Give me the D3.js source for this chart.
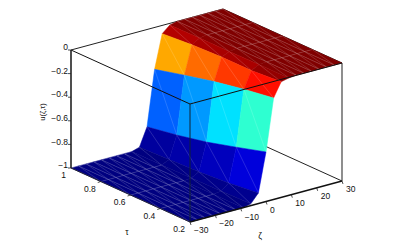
<!DOCTYPE html>
<html>
<head>
<meta charset="utf-8">
<script src="https://cdn.jsdelivr.net/npm/d3@7"></script>
<style>
  html, body { margin: 0; padding: 0; background: #fff; }
  svg { display: block; }
  text { font-family: "Liberation Sans", Arial, sans-serif; font-size: 8.5px; fill: #111; }
</style>
</head>
<body>
<svg width="407" height="245"></svg>
<script>
// values
const zetaGrid = [-30, -27, -24, -21, -18, -15, -12, -9, -6, -3, 0, 3, 6, 9, 12, 15, 18, 21, 24, 27, 30];
const tauGrid = [1, 0.8, 0.6, 0.4, 0.2];

const uTau10 = [-1, -1, -1, -1, -1, -1, -1, -1, -1, -0.98, -0.825, -0.355, -0.07, -0.015, 0, 0, 0, 0, 0, 0, 0];
const uTau08 = [-1, -1, -1, -1, -1, -1, -1, -1, -1, -0.97, -0.78, -0.29, -0.05, -0.01, 0, 0, 0, 0, 0, 0, 0];
const uTau06 = [-1, -1, -1, -1, -1, -1, -1, -1, -0.995, -0.96, -0.725, -0.23, -0.04, -0.01, 0, 0, 0, 0, 0, 0, 0];
const uTau04 = [-1, -1, -1, -1, -1, -1, -1, -1, -0.99, -0.94, -0.654, -0.18, -0.04, -0.005, 0, 0, 0, 0, 0, 0, 0];
const uTau02 = [-1, -1, -1, -1, -1, -1, -1, -1, -0.985, -0.91, -0.58, -0.14, -0.02, -0.005, 0, 0, 0, 0, 0, 0, 0];
const uRows = [uTau10, uTau08, uTau06, uTau04, uTau02];

const zetaTicks = [-30, -20, -10, 0, 10, 20, 30];
const tauTicks = [1, 0.8, 0.6, 0.4, 0.2];
const uTicks = [0, -0.2, -0.4, -0.6, -0.8, -1];

const svg = d3.select('svg');

// the box is an oblique projection, each data axis moves the point in x and y
const zetaX = d3.scaleLinear().domain([-30, 30]).range([0, 152]);
const zetaY = d3.scaleLinear().domain([-30, 30]).range([0, -41]);
const tauX = d3.scaleLinear().domain([0.2, 1]).range([190, 71]);
const tauY = d3.scaleLinear().domain([0.2, 1]).range([222, 168]);
const uY = d3.scaleLinear().domain([-1, 0]).range([0, -118]);

const px = (zeta, tau) => tauX(tau) + zetaX(zeta);
const py = (zeta, tau, u) => tauY(tau) + zetaY(zeta) + uY(u);
const pt = (zeta, tau, u) => [px(zeta, tau), py(zeta, tau, u)];

// jet colormap
const jet = d3.scaleLinear()
    .domain([-1, -0.875, -0.625, -0.375, -0.125, 0])
    .range(['#000080', '#0000ff', '#00ffff', '#ffff00', '#ff0000', '#800000'])
    .interpolate(d3.interpolateRgb);

const line = d3.line();

function edge(a, b, width, color) {
    svg.append('path')
        .attr('d', line([a, b]))
        .attr('fill', 'none')
        .attr('stroke', color)
        .attr('stroke-width', width);
}

// back edges go under the surface
edge(pt(-30, 1, 0), pt(30, 1, 0), 1, '#222');
edge(pt(30, 1, 0), pt(30, 0.2, 0), 1, '#222');
edge(pt(30, 1, -1), pt(30, 0.2, -1), 1, '#222');
edge(pt(30, 0.2, 0), pt(30, 0.2, -1), 1.2, '#444');

// build the cells, far ones first so the near ones paint over them
const cells = [];
for (let j = zetaGrid.length - 2; j >= 0; j--) {
    for (let i = 0; i < tauGrid.length - 1; i++) {
        cells.push({ i, j });
    }
}

svg.append('g').selectAll('path')
    .data(cells)
    .enter()
    .append('path')
    .attr('d', d => {
        const { i, j } = d;
        return line([
            pt(zetaGrid[j], tauGrid[i], uRows[i][j]),
            pt(zetaGrid[j + 1], tauGrid[i], uRows[i][j + 1]),
            pt(zetaGrid[j + 1], tauGrid[i + 1], uRows[i + 1][j + 1]),
            pt(zetaGrid[j], tauGrid[i + 1], uRows[i + 1][j])
        ]) + 'Z';
    })
    .attr('fill', d => jet(uRows[d.i + 1][d.j]))
    .attr('stroke', d => jet(uRows[d.i + 1][d.j]))
    .attr('stroke-width', 0.5);

// light seams of the triangle mesh
svg.append('g').selectAll('path')
    .data(cells)
    .enter()
    .append('path')
    .attr('d', d => {
        const { i, j } = d;
        const flat = uRows[i][j] === uRows[i][j + 1];
        const diag = line([
            pt(zetaGrid[j + 1], tauGrid[i], uRows[i][j + 1]),
            pt(zetaGrid[j], tauGrid[i + 1], uRows[i + 1][j])
        ]);
        const side = line([
            pt(zetaGrid[j], tauGrid[i], uRows[i][j]),
            pt(zetaGrid[j], tauGrid[i + 1], uRows[i + 1][j])
        ]);
        const along = line([
            pt(zetaGrid[j], tauGrid[i], uRows[i][j]),
            pt(zetaGrid[j + 1], tauGrid[i], uRows[i][j + 1])
        ]);
        return flat ? diag + side + along : diag;
    })
    .attr('fill', 'none')
    .attr('stroke', '#fff')
    .attr('stroke-opacity', 0.25)
    .attr('stroke-width', 0.6);

// front edges sit on top
edge(pt(-30, 1, 0), pt(-30, 0.2, 0), 1, '#111');
edge(pt(-30, 0.2, 0), pt(30, 0.2, 0), 1, '#111');
edge(pt(-30, 0.2, 0), pt(-30, 0.2, -1), 1, '#123');
edge(pt(-30, 1, 0), pt(-30, 1, -1), 1.6, '#222');
edge(pt(-30, 1, -1), pt(-30, 0.2, -1), 1, '#223');
edge(pt(-30, 0.2, -1), pt(30, 0.2, -1), 1.5, '#111');

// u axis
svg.append('g').selectAll('path')
    .data(uTicks)
    .enter()
    .append('path')
    .attr('d', d => line([pt(-30, 1, d), [px(-30, 1) - 3, py(-30, 1, d)]]))
    .attr('stroke', '#222')
    .attr('stroke-width', 0.8);

svg.append('g').selectAll('text')
    .data(uTicks)
    .enter()
    .append('text')
    .attr('x', px(-30, 1) - 3)
    .attr('y', d => py(-30, 1, d) - 2)
    .attr('text-anchor', 'end')
    .attr('dominant-baseline', 'middle')
    .text(d => d === 0 ? '0' : '\u2212' + Math.abs(d));

// tau axis
svg.append('g').selectAll('path')
    .data(tauTicks.slice(1, 4))
    .enter()
    .append('path')
    .attr('d', d => line([pt(-30, d, -1), [px(-30, d) - 3, py(-30, d, -1) + 1]]))
    .attr('stroke', '#222')
    .attr('stroke-width', 0.8);

svg.append('g').selectAll('text')
    .data(tauTicks)
    .enter()
    .append('text')
    .attr('x', d => px(-30, d) - 5)
    .attr('y', d => py(-30, d, -1) + 8)
    .attr('text-anchor', 'end')
    .attr('dominant-baseline', 'middle')
    .text(d => d);

// zeta axis
svg.append('g').selectAll('path')
    .data(zetaTicks)
    .enter()
    .append('path')
    .attr('d', d => line([pt(d, 0.2, -1), [px(d, 0.2) + 1, py(d, 0.2, -1) + 3]]))
    .attr('stroke', '#222')
    .attr('stroke-width', 0.8);

svg.append('g').selectAll('text')
    .data(zetaTicks)
    .enter()
    .append('text')
    .attr('x', d => px(d, 0.2) + 4)
    .attr('y', d => py(d, 0.2, -1) + 9)
    .attr('text-anchor', 'start')
    .attr('dominant-baseline', 'middle')
    .text(d => d < 0 ? '\u2212' + Math.abs(d) : d);

// axis titles
svg.append('text').attr('x', 127).attr('y', 233).attr('text-anchor', 'middle')
    .attr('dominant-baseline', 'middle').text('\u03c4');
svg.append('text').attr('x', 260).attr('y', 237).attr('text-anchor', 'middle')
    .attr('dominant-baseline', 'middle').text('\u03b6');
svg.append('text')
    .attr('transform', 'translate(43,112) rotate(-90)')
    .attr('text-anchor', 'middle')
    .attr('dominant-baseline', 'middle')
    .style('font-size', '7.5px')
    .text('u(\u03b6,\u03c4)');
</script>
</body>
</html>
